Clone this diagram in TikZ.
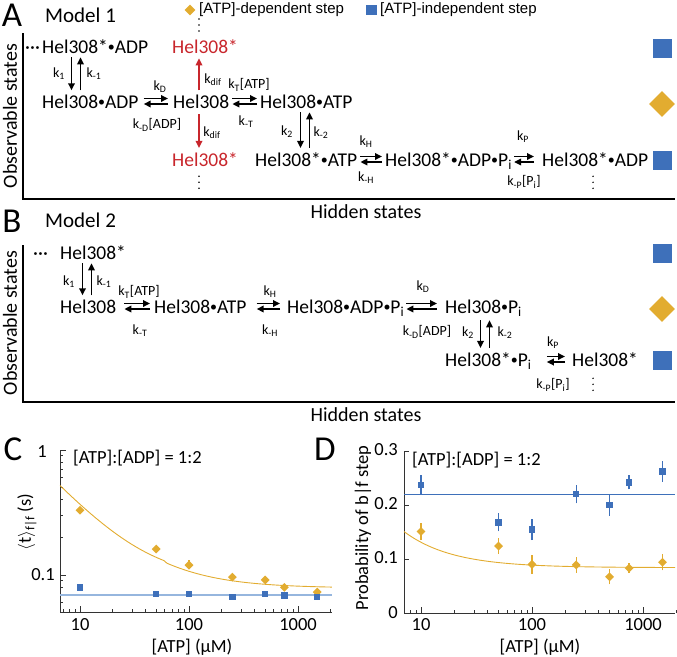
\documentclass[tikz,border=0pt]{standalone}
\usepackage{fontspec}
\setmainfont{Carlito}
\newfontfamily\legfont{Liberation Sans}
\usetikzlibrary{shapes.geometric, arrows.meta, positioning, calc}
\definecolor{atpgold}{RGB}{226,172,48}
\definecolor{stepblue}{RGB}{62,112,186}
\definecolor{fitblue}{RGB}{150,182,222}
\definecolor{hotred}{RGB}{200,38,44}
\newcommand\sub[1]{\textsubscript{#1}}
\newcommand\bul{\raisebox{1.9pt}{\fontsize{14}{14}\selectfont •}}
% forward/backward pair between two states of one row (gaps left, right)
\newcommand\eqpair[4]{%
  \draw[arr] ($(#1.base east)+(#3,-9.5)$) -- ($(#2.base west)+(-#4,-9.5)$);
  \draw[arr] ($(#2.base west)+(-#4,-4)$) -- ($(#1.base east)+(#3,-4)$);}
% down/up pair between two rows, at column #3
\newcommand\vpair[3]{%
  \draw[arr] ($(#1.south -| #3)+(-4.5,4)$) -- ($(#2.north -| #3)+(-4.5,-4)$);
  \draw[arr] ($(#2.north -| #3)+(4.5,-4)$) -- ($(#1.south -| #3)+(4.5,4)$);}

\begin{document}
\begin{tikzpicture}[x=1pt, y=-1pt,
  state/.style={inner sep=0pt, anchor=base west, font=\fontsize{19.5}{22}\selectfont},
  hot/.style={state, text=hotred},
  klbl/.style={inner sep=0pt, font=\fontsize{14}{16}\selectfont},
  panel/.style={inner sep=0pt, font=\fontsize{35}{38}\selectfont},
  model/.style={inner sep=0pt, anchor=west, font=\fontsize{21}{24}\selectfont},
  axlab/.style={inner sep=0pt, font=\fontsize{20}{22}\selectfont},
  legtxt/.style={inner sep=0pt, anchor=west, font=\legfont\fontsize{15}{17}\selectfont},
  tick/.style={inner sep=0pt, font=\fontsize{18.5}{20}\selectfont},
  arr/.style={-{Triangle[length=7pt, width=6.5pt]}, line width=1.7pt},
  vdots/.style={line width=1.7pt, line cap=round, dash pattern=on 0pt off 6pt},
  frame/.style={line width=1.2pt},
  bigsq/.style={fill=stepblue, minimum size=19pt, inner sep=0pt},
  bigdia/.style={diamond, fill=atpgold, minimum size=26pt, inner sep=0pt},
  legsq/.style={fill=stepblue, minimum size=10.5pt, inner sep=0pt},
  legdia/.style={diamond, fill=atpgold, minimum size=11pt, inner sep=0pt},
  plotaxis/.style={line width=0.8pt, black!80},
  cdia/.style={diamond, fill=atpgold, minimum size=9pt, inner sep=0pt},
  csq/.style={fill=stepblue, minimum size=6.5pt, inner sep=0pt},
  goldbar/.style={atpgold, line width=1.3pt},
  bluebar/.style={stepblue, line width=1.3pt},
  goldfit/.style={atpgold, line width=0.9pt},
  cfit/.style={fitblue, line width=2.2pt},
  dfit/.style={stepblue, line width=0.9pt}
]
\useasboundingbox (0,0) rectangle (677,656);

% --- Panel A: model 1 ---
\node[panel] (pA) at (12,15) {A};
\node[model] (mod1) at (45,15) {Model 1};
\node[legdia] (lgdia) at (190,10) {};
\node[legtxt] (lgdiat) at (199,10) {[ATP]-dependent step};
\node[legsq] (lgsq) at (371.5,10) {};
\node[legtxt] (lgsqt) at (380,10) {[ATP]-independent step};
\draw[frame] (23,33) -- (23,199) -- (675,199);
\node[axlab, rotate=90] (obsA) at (10,116) {Observable states};
\node[axlab] (hidA) at (366,212) {Hidden states};

\coordinate (colA1) at (76,0);
\coordinate (colA2) at (305,0);
\coordinate (difx) at (199,0);
\coordinate (dotx) at (593,0);

\node[state] (dotsA) at (25,53) {···};
\node[state] (a1) at (42,53) {Hel308*\bul ADP};
\node[hot] (hot1) at (172,53) {Hel308*};
\node[state] (a2) at (42,108) {Hel308\bul ADP};
\node[state] (a3) at (173,108) {Hel308};
\node[state] (a4) at (260,108) {Hel308\bul ATP};
\node[hot] (hot2) at (172,166) {Hel308*};
\node[state] (a5) at (255,166) {Hel308*\bul ATP};
\node[state] (a6) at (385,166) {Hel308*\bul ADP\bul P\sub{i}};
\node[state] (a7) at (542,166) {Hel308*\bul ADP};

\vpair{a1}{a2}{colA1}
\eqpair{a2}{a3}{5}{5}
\eqpair{a3}{a4}{3}{3}
\vpair{a4}{a5}{colA2}
\eqpair{a5}{a6}{3}{3}
\eqpair{a6}{a7}{2}{8}
\draw[arr, hotred] ($(a3.north -| difx)+(0,-4)$) -- ($(hot1.south -| difx)+(0,5)$);
\draw[arr, hotred] ($(a3.south -| difx)+(0,6)$) -- ($(hot2.north -| difx)+(0,-4)$);
\draw[vdots] (hot1.north -| difx) ++(0,-8) -- ++(0,-12.2);
\draw[vdots] (hot2.south -| difx) ++(0,10) -- ++(0,12.2);
\draw[vdots] (a7.south -| dotx) ++(0,10) -- ++(0,12.2);

\node[klbl] (ka1) at (59,74) {k\sub{1}};
\node[klbl] (kam1) at (94,74) {k\sub{-1}};
\node[klbl] (kaD) at (160,87) {k\sub{D}};
\node[klbl] (kamD) at (157,125) {k\sub{-D}[ADP]};
\node[klbl] (kadif1) at (213,80) {k\sub{dif}};
\node[klbl] (kaT) at (249,85) {k\sub{T}[ATP]};
\node[klbl] (kamT) at (246,122) {k\sub{-T}};
\node[klbl] (kadif2) at (212,133) {k\sub{dif}};
\node[klbl] (ka2) at (287,132) {k\sub{2}};
\node[klbl] (kam2) at (321,133) {k\sub{-2}};
\node[klbl] (kaH) at (366,142) {k\sub{H}};
\node[klbl] (kamH) at (366,178) {k\sub{-H}};
\node[klbl] (kaP) at (523,137) {k\sub{P}};
\node[klbl] (kamP) at (524,182) {k\sub{-P}[P\sub{i}]};

\node[bigsq] (sqA1) at (662,48) {};
\node[bigdia] (diaA) at (662,104) {};
\node[bigsq] (sqA2) at (662,160) {};

% --- Panel B: model 2 ---
\node[panel] (pB) at (12,221) {B};
\node[model] (mod2) at (45,220) {Model 2};
\draw[frame] (23,245) -- (23,402) -- (675,402);
\node[axlab, rotate=90] (obsB) at (10,323) {Observable states};
\node[axlab] (hidB) at (366,415) {Hidden states};

\coordinate (colB1) at (87,0);
\coordinate (colB2) at (485,0);

\node[state] (dotsB) at (33,259) {···};
\node[state] (b1) at (60,259) {Hel308*};
\node[state] (b2) at (60,313) {Hel308};
\node[state] (b3) at (154,313) {Hel308\bul ATP};
\node[state] (b4) at (287,313) {Hel308\bul ADP\bul P\sub{i}};
\node[state] (b5) at (445,313) {Hel308\bul P\sub{i}};
\node[state] (b6) at (445,366) {Hel308*\bul P\sub{i}};
\node[state] (b7) at (572,366) {Hel308*};

\vpair{b1}{b2}{colB1}
\eqpair{b2}{b3}{8}{4}
\eqpair{b3}{b4}{10}{7}
\eqpair{b4}{b5}{2}{8}
\vpair{b5}{b6}{colB2}
\eqpair{b6}{b7}{15}{7}
\draw[vdots] (b7.south -| dotx) ++(0,12) -- ++(0,12.2);

\node[klbl] (kb1) at (69,282) {k\sub{1}};
\node[klbl] (kbm1) at (104,282) {k\sub{-1}};
\node[klbl] (kbT) at (139,292) {k\sub{T}[ATP]};
\node[klbl] (kbmT) at (140,331) {k\sub{-T}};
\node[klbl] (kbH) at (270,292) {k\sub{H}};
\node[klbl] (kbmH) at (270,331) {k\sub{-H}};
\node[klbl] (kbD) at (423,287) {k\sub{D}};
\node[klbl] (kbmD) at (427,332) {k\sub{-D}[ADP]};
\node[klbl] (kb2) at (468,333) {k\sub{2}};
\node[klbl] (kbm2) at (505,333) {k\sub{-2}};
\node[klbl] (kbP) at (553,343) {k\sub{P}};
\node[klbl] (kbmP) at (553,385) {k\sub{-P}[P\sub{i}]};

\node[bigsq] (sqB1) at (662,253) {};
\node[bigdia] (diaB) at (662,309) {};
\node[bigsq] (sqB2) at (662,360) {};

% --- Panel C: mean dwell time ---
\node[panel] (pC) at (13,449) {C};
\begin{scope}[shift={(80pt,-575pt)}, x=109pt, y=125pt]
  \draw[plotaxis] (-0.183,1) -- (-0.183,-0.296) -- (2.312,-0.296);
  \draw[plotaxis] (-0.183,0) -- ++(6pt,0) (-0.183,1) -- ++(6pt,0);
  \foreach \m in {2,...,9} \draw[plotaxis] (-0.183,{log10(\m)}) -- ++(3pt,0);
  \foreach \m in {5,...,9} \draw[plotaxis] (-0.183,{log10(\m)-1}) -- ++(3pt,0);
  \foreach \d in {0,1,2} \draw[plotaxis] (\d,-0.296) -- ++(0,6pt);
  \foreach \m in {7,8,9} \draw[plotaxis] ({log10(\m)-1},-0.296) -- ++(0,3pt);
  \foreach \m in {2,...,9} \draw[plotaxis] ({log10(\m)},-0.296) -- ++(0,3pt) ({log10(\m)+1},-0.296) -- ++(0,3pt);
  \draw[plotaxis] ({log10(2)+2},-0.296) -- ++(0,3pt);
  \draw[cfit] (-0.183,{log10(0.068)+1}) -- (2.312,{log10(0.068)+1});
  \draw[goldfit] plot[domain=-0.183:2.312, samples=90] (\x,{log10(0.078+2.9/(10^(\x+1)))+1});
  \foreach \v/\t/\e [count=\i] in {10/0.33/0.02, 50/0.16/0.01, 100/0.12/0.008, 250/0.096/0.005, 500/0.091/0.005, 750/0.079/0.004, 1500/0.072/0.004}{
    \draw[goldbar] ({log10(\v)-1},{log10(\t-\e)+1}) -- ({log10(\v)-1},{log10(\t+\e)+1});
    \node[cdia] (cgold\i) at ({log10(\v)-1},{log10(\t)+1}) {};
  }
  \foreach \v/\t [count=\i] in {10/0.079, 50/0.069, 100/0.069, 250/0.065, 500/0.069, 750/0.067, 1500/0.065}
    \node[csq] (cblue\i) at ({log10(\v)-1},{log10(\t)+1}) {};
\end{scope}
\node[tick] (cy1) at (42,452) {1};
\node[tick] (cy01) at (43,575) {0.1};
\node[tick] (cx10) at (80,625) {10};
\node[tick] (cx100) at (189,625) {100};
\node[tick] (cx1000) at (298,625) {1000};
\node[tick] (cxlab) at (192,647) {[ATP] (µM)};
\node[tick, anchor=west] (cratio) at (73,458) {[ATP]:[ADP] = 1:2};
\node[tick, rotate=90] (cylab) at (27,522) {\ensuremath{\langle}t\ensuremath{\rangle}\sub{f|f} (s)};

% --- Panel D: probability of backward step ---
\node[panel] (pD) at (325,449) {D};
\begin{scope}[shift={(421pt,-613pt)}, x=111pt, y=540pt]
  \draw[plotaxis] (-0.153,0.3) -- (-0.153,0) -- (2.29,0);
  \foreach \p in {0,0.1,0.2,0.3} \draw[plotaxis] (-0.153,\p) -- ++(5pt,0);
  \foreach \d in {0,1,2} \draw[plotaxis] (\d,0) -- ++(0,6pt);
  \foreach \m in {8,9} \draw[plotaxis] ({log10(\m)-1},0) -- ++(0,3pt);
  \foreach \m in {2,...,9} \draw[plotaxis] ({log10(\m)},0) -- ++(0,3pt) ({log10(\m)+1},0) -- ++(0,3pt);
  \draw[plotaxis] ({log10(2)+2},0) -- ++(0,3pt);
  \draw[dfit] (-0.153,0.22) -- (2.29,0.22);
  \draw[goldfit] plot[domain=-0.153:2.29, samples=90] (\x,{0.084+0.47/(10^(\x+1))});
  \foreach \v/\p/\e [count=\i] in {10/0.151/0.016, 50/0.124/0.015, 100/0.090/0.018, 250/0.089/0.014, 500/0.067/0.014, 750/0.083/0.009, 1500/0.094/0.015}{
    \draw[goldbar] ({log10(\v)-1},\p-\e) -- ({log10(\v)-1},\p+\e);
    \node[cdia] (dgold\i) at ({log10(\v)-1},\p) {};
  }
  \foreach \v/\p/\e [count=\i] in {10/0.237/0.018, 50/0.168/0.017, 100/0.155/0.02, 250/0.22/0.017, 500/0.20/0.02, 750/0.242/0.013, 1500/0.262/0.019}{
    \draw[bluebar] ({log10(\v)-1},\p-\e) -- ({log10(\v)-1},\p+\e);
    \node[csq] (dblue\i) at ({log10(\v)-1},\p) {};
  }
\end{scope}
\node[tick, anchor=east] (dy3) at (398,450) {0.3};
\node[tick, anchor=east] (dy2) at (398,504) {0.2};
\node[tick, anchor=east] (dy1) at (398,558) {0.1};
\node[tick, anchor=east] (dy0) at (398,613) {0};
\node[tick] (dx10) at (421,625) {10};
\node[tick] (dx100) at (532,625) {100};
\node[tick] (dx1000) at (643,625) {1000};
\node[tick] (dxlab) at (540,647) {[ATP] (µM)};
\node[tick, anchor=west] (dratio) at (412,460) {[ATP]:[ADP] = 1:2};
\node[tick, rotate=90] (dylab) at (363,528) {Probability of b|f step};
\end{tikzpicture}
\end{document}
